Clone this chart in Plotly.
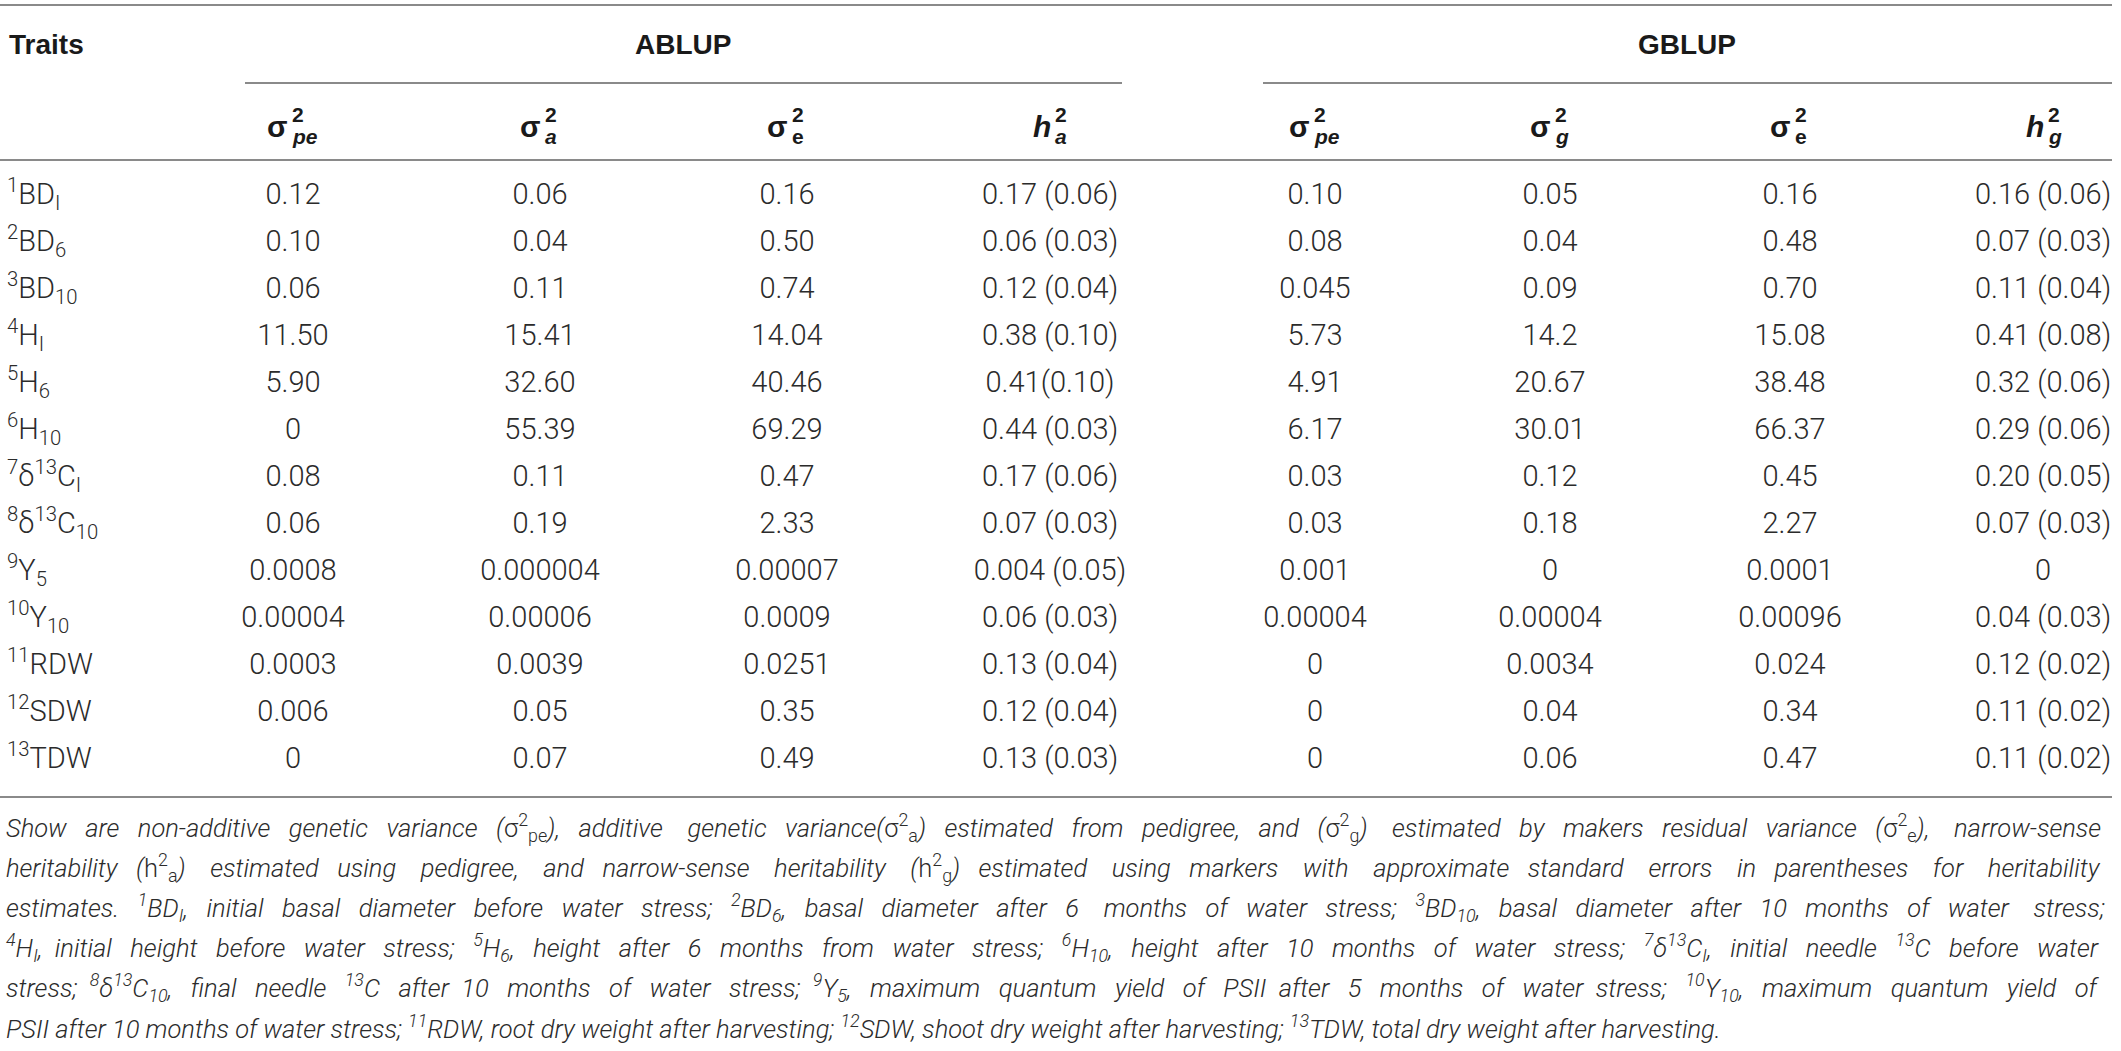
import re
import plotly.graph_objects as go

# Werte aus der Tabelle (ABLUP / GBLUP)
traits = ["<sup>1</sup>BD<sub>I</sub>", "<sup>2</sup>BD<sub>6</sub>", "<sup>3</sup>BD<sub>10</sub>",
          "<sup>4</sup>H<sub>I</sub>", "<sup>5</sup>H<sub>6</sub>", "<sup>6</sup>H<sub>10</sub>",
          "<sup>7</sup>δ<sup>13</sup>C<sub>I</sub>", "<sup>8</sup>δ<sup>13</sup>C<sub>10</sub>",
          "<sup>9</sup>Y<sub>5</sub>", "<sup>10</sup>Y<sub>10</sub>", "<sup>11</sup>RDW",
          "<sup>12</sup>SDW", "<sup>13</sup>TDW"]

ablup_pe = ["0.12", "0.10", "0.06", "11.50", "5.90", "0", "0.08", "0.06", "0.0008", "0.00004", "0.0003", "0.006", "0"]
ablup_a = ["0.06", "0.04", "0.11", "15.41", "32.60", "55.39", "0.11", "0.19", "0.000004", "0.00006", "0.0039", "0.05", "0.07"]
ablup_e = ["0.16", "0.50", "0.74", "14.04", "40.46", "69.29", "0.47", "2.33", "0.00007", "0.0009", "0.0251", "0.35", "0.49"]
ablup_h = ["0.17 (0.06)", "0.06 (0.03)", "0.12 (0.04)", "0.38 (0.10)", "0.41(0.10)", "0.44 (0.03)", "0.17 (0.06)",
           "0.07 (0.03)", "0.004 (0.05)", "0.06 (0.03)", "0.13 (0.04)", "0.12 (0.04)", "0.13 (0.03)"]

gblup_pe = ["0.10", "0.08", "0.045", "5.73", "4.91", "6.17", "0.03", "0.03", "0.001", "0.00004", "0", "0", "0"]
gblup_g = ["0.05", "0.04", "0.09", "14.2", "20.67", "30.01", "0.12", "0.18", "0", "0.00004", "0.0034", "0.04", "0.06"]
gblup_e = ["0.16", "0.48", "0.70", "15.08", "38.48", "66.37", "0.45", "2.27", "0.0001", "0.00096", "0.024", "0.34", "0.47"]
gblup_h = ["0.16 (0.06)", "0.07 (0.03)", "0.11 (0.04)", "0.41 (0.08)", "0.32 (0.06)", "0.29 (0.06)", "0.20 (0.05)",
           "0.07 (0.03)", "0", "0.04 (0.03)", "0.12 (0.02)", "0.11 (0.02)", "0.11 (0.02)"]

groups = ["ABLUP", "GBLUP"]
# Spaltenköpfe: (Grundzeichen, Index unten)
col_heads = [("σ", "<i>pe</i>"), ("σ", "<i>a</i>"), ("σ", "e"), ("<i>h</i>", "<i>a</i>"),
             ("σ", "<i>pe</i>"), ("σ", "<i>g</i>"), ("σ", "e"), ("<i>h</i>", "<i>g</i>")]

up = "<span style='font-style:normal'>"
footnote = [
    "Show are non-additive genetic variance (" + up + "σ<sup>2</sup><sub>pe</sub></span>), additive genetic variance(" + up + "σ<sup>2</sup><sub>a</sub></span>) estimated from pedigree, and (" + up + "σ<sup>2</sup><sub>g</sub></span>) estimated by makers residual variance (" + up + "σ<sup>2</sup><sub>e</sub></span>), narrow-sense",
    "heritability (" + up + "h<sup>2</sup><sub>a</sub></span>) estimated using pedigree, and narrow-sense heritability (" + up + "h<sup>2</sup><sub>g</sub></span>) estimated using markers with approximate standard errors in parentheses for heritability",
    "estimates. <sup>1</sup>BD<sub>I</sub>, initial basal diameter before water stress; <sup>2</sup>BD<sub>6</sub>, basal diameter after 6 months of water stress; <sup>3</sup>BD<sub>10</sub>, basal diameter after 10 months of water stress;",
    "<sup>4</sup>H<sub>I</sub>, initial height before water stress; <sup>5</sup>H<sub>6</sub>, height after 6 months from water stress; <sup>6</sup>H<sub>10</sub>, height after 10 months of water stress; <sup>7</sup>δ<sup>13</sup>C<sub>I</sub>, initial needle <sup>13</sup>C before water",
    "stress; <sup>8</sup>δ<sup>13</sup>C<sub>10</sub>, final needle <sup>13</sup>C after 10 months of water stress; <sup>9</sup>Y<sub>5</sub>, maximum quantum yield of PSII after 5 months of water stress; <sup>10</sup>Y<sub>10</sub>, maximum quantum yield of",
    "PSII after 10 months of water stress; <sup>11</sup>RDW, root dry weight after harvesting; <sup>12</sup>SDW, shoot dry weight after harvesting; <sup>13</sup>TDW, total dry weight after harvesting.",
]

columns = [ablup_pe, ablup_a, ablup_e, ablup_h, gblup_pe, gblup_g, gblup_e, gblup_h]

# Layout (Pixel-Raster 2121 x 1051)
W, H = 2121, 1051
col_x = [293, 540, 787, 1050, 1315, 1550, 1790, 2043]
group_x = [683, 1687]
row0, row_h = 197, 47
rows_y = [row0 + i * row_h for i in range(len(traits))]
txt = "#2b2b2b"
line_col = "#8a8a8a"

fn_size = 25.5
fn_natural = [1832, 1790, 1777, 1770, 1796, None]   # gemessene Zeilenbreite ohne Blocksatz
fn_right = 2110
space_w = 0.248 * fn_size


def justify(s, width):
    # Blocksatz grob nachbauen: zusätzliche geschützte Leerzeichen auf die Wortabstände verteilen
    if width is None:
        return s
    n_extra = max(0, round((fn_right - 4 - width) / space_w))
    parts = re.split(r"(<[^>]+>)", s)
    gaps = sum(p.count(" ") for p in parts if not p.startswith("<"))
    out, k = [], 0
    for p in parts:
        if p.startswith("<"):
            out.append(p)
            continue
        buf = ""
        for ch in p:
            if ch == " ":
                add = (n_extra * (k + 1)) // gaps - (n_extra * k) // gaps
                buf += " " + "\u00a0" * add
                k += 1
            else:
                buf += ch
        out.append(buf)
    return "".join(out)


fig = go.Figure()

fig.add_trace(go.Scatter(x=[7] * len(traits), y=rows_y, mode="text", text=traits, textposition="middle right",
                         textfont=dict(family="Roboto", size=29, color=txt, weight=300), hoverinfo="skip"))
for cx, vals in zip(col_x, columns):
    fig.add_trace(go.Scatter(x=[cx] * len(vals), y=rows_y, mode="text", text=vals, textposition="middle center",
                             textfont=dict(family="Roboto", size=29, color=txt, weight=300), hoverinfo="skip"))

ann = []
hfont = dict(family="Liberation Sans", size=28, color="#1a1a1a")
ann.append(dict(x=7, y=44, text="<b>Traits</b>", xanchor="left", yanchor="middle", showarrow=False, font=hfont))
for gx, g in zip(group_x, groups):
    ann.append(dict(x=gx, y=44, text="<b>" + g + "</b>", xanchor="center", yanchor="middle", showarrow=False, font=hfont))

# gestapelte Hoch-/Tiefstellung in den Spaltenköpfen
for cx, (base, sub) in zip(col_x, col_heads):
    sub_len = len(sub.replace("<i>", "").replace("</i>", ""))
    ax = cx + (17 - 12 * sub_len) / 2
    ann.append(dict(x=ax, y=126, text="<b>" + base + "</b>", xanchor="right", yanchor="middle", showarrow=False,
                    font=dict(family="Liberation Sans", size=30, color="#1a1a1a")))
    ann.append(dict(x=ax, y=126, yshift=12, text="<b>2</b>", xanchor="left", yanchor="middle", showarrow=False,
                    font=dict(family="Liberation Sans", size=21, color="#1a1a1a")))
    ann.append(dict(x=ax, y=126, yshift=-10, text="<b>" + sub + "</b>", xanchor="left", yanchor="middle", showarrow=False,
                    font=dict(family="Liberation Sans", size=21, color="#1a1a1a")))

for k, line in enumerate(footnote):
    ann.append(dict(x=4, y=827 + 40 * k, text="<i>" + justify(line, fn_natural[k]) + "</i>", xanchor="left",
                    yanchor="middle", showarrow=False, align="left",
                    font=dict(family="Roboto", size=fn_size, color=txt, weight=300)))

shapes = []
for y0, xa, xb in [(5, 0, 2112), (83, 245, 1122), (83, 1263, 2112), (160, 0, 2112), (797, 0, 2112)]:
    shapes.append(dict(type="line", x0=xa, x1=xb, y0=y0, y1=y0, line=dict(color=line_col, width=2)))

fig.update_layout(width=W, height=H, margin=dict(l=0, r=0, t=0, b=0), paper_bgcolor="white", plot_bgcolor="white",
                  showlegend=False, annotations=ann, shapes=shapes,
                  xaxis=dict(range=[0, W], visible=False, fixedrange=True),
                  yaxis=dict(range=[H, 0], visible=False, fixedrange=True))

fig.write_html("out.html", config={"displayModeBar": False}, post_script="document.body.style.margin='0px';")
